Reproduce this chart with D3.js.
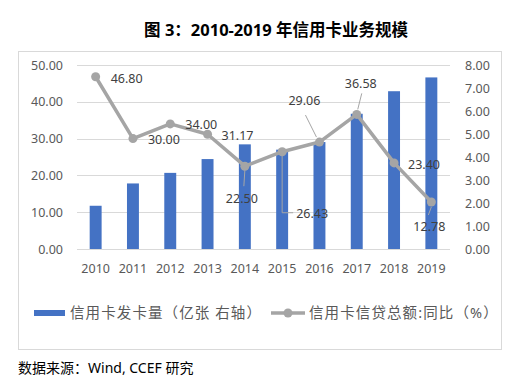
<!DOCTYPE html>
<html>
<head>
<meta charset="utf-8">
<script src="https://cdn.jsdelivr.net/npm/d3@7"></script>
<style>
  body { margin: 0; background: #fff; }
  svg text { font-family: "Noto Sans", "Noto Sans CJK SC", sans-serif; fill: #595959; }
</style>
</head>
<body>
<div id="viz"></div>
<script>
// data
var years = ["2010","2011","2012","2013","2014","2015","2016","2017","2018","2019"];
var cards = [1.88, 2.85, 3.31, 3.91, 4.55, 4.32, 4.65, 5.88, 6.86, 7.46]; // 亿张, right axis
var growth = [46.80, 30.00, 34.00, 31.17, 22.50, 26.43, 29.06, 36.58, 23.40, 12.78]; // %, left axis
var leftTicks = [0, 10, 20, 30, 40, 50];
var rightTicks = [0, 1, 2, 3, 4, 5, 6, 7, 8];

// label placement relative to the point: dx, dy, anchor
var labelPos = [
  [15, 2, "start"], [15, 1, "start"], [15, 1, "start"], [14, 1, "start"],
  [-3, 32, "middle"], [14, 62, "start"], [-15, -41, "middle"], [4, -31, "middle"],
  [14, 2, "start"], [-2, 25, "middle"]
];
// leader lines (relative to point) for a few labels
var leaders = {
  4: [[0, 4], [-1, 20]],
  5: [[0, 4], [0, 61], [11, 61]],
  6: [[-3, -5], [-14, -27]],
  7: [[1, -5], [5, -21]],
  9: [[0, 5], [-3, 13]]
};

var W = 520, H = 386;
var plotL = 77, plotR = 450, plotT = 65, plotB = 249;

var svg = d3.select("#viz").append("svg")
    .attr("width", W)
    .attr("height", H);

svg.append("text")
    .attr("x", 276).attr("y", 36)
    .attr("text-anchor", "middle")
    .style("font-size", "16.5px")
    .style("font-weight", "bold")
    .style("fill", "#000")
    .text("图 3：2010-2019 年信用卡业务规模");

svg.append("rect")
    .attr("x", 18.5).attr("y", 51.5)
    .attr("width", 483).attr("height", 298)
    .attr("fill", "none")
    .attr("stroke", "#d9d9d9");

var x = d3.scaleBand().domain(years).range([plotL, plotR]).paddingInner(0.68).paddingOuter(0.34);
var yL = d3.scaleLinear().domain([0, 50]).range([plotB, plotT]);
var yR = d3.scaleLinear().domain([0, 8]).range([plotB, plotT]);
var cx = function(d) { return x(d) + x.bandwidth() / 2; };

// grid
svg.selectAll(".grid").data(leftTicks).enter().append("line")
    .attr("x1", plotL).attr("x2", plotR)
    .attr("y1", function(d) { return Math.round(yL(d)) + 0.5; })
    .attr("y2", function(d) { return Math.round(yL(d)) + 0.5; })
    .attr("stroke", "#d9d9d9");

// axes
var axL = svg.append("g").attr("transform", "translate(" + (plotL - 14) + ",0)")
    .call(d3.axisLeft(yL).tickValues(leftTicks).tickFormat(d3.format(".2f")).tickSize(0));
var axR = svg.append("g").attr("transform", "translate(" + (plotR + 15) + ",0)")
    .call(d3.axisRight(yR).tickValues(rightTicks).tickFormat(d3.format(".2f")).tickSize(0));
var axX = svg.append("g").attr("transform", "translate(0," + (plotB + 12) + ")")
    .call(d3.axisBottom(x).tickSize(0));
[axL, axR, axX].forEach(function(a) {
  a.select(".domain").remove();
  a.selectAll("text").style("font-size", "12.5px").style("font-family", null).attr("fill", null);
});
axL.selectAll("text").attr("x", 0);
axR.selectAll("text").attr("x", 0);

// bars
svg.selectAll(".bar").data(cards).enter().append("rect")
    .attr("x", function(d, i) { return x(years[i]); })
    .attr("y", function(d) { return yR(d); })
    .attr("width", x.bandwidth())
    .attr("height", function(d) { return plotB - yR(d); })
    .attr("fill", "#4472c4");

// line
var line = d3.line()
    .x(function(d, i) { return cx(years[i]); })
    .y(function(d) { return yL(d); });
svg.append("path")
    .datum(growth)
    .attr("d", line)
    .attr("fill", "none")
    .attr("stroke", "#a5a5a5")
    .attr("stroke-width", 3.5)
    .attr("stroke-linejoin", "round");
svg.selectAll(".dot").data(growth).enter().append("circle")
    .attr("cx", function(d, i) { return cx(years[i]); })
    .attr("cy", function(d) { return yL(d); })
    .attr("r", 4.5)
    .attr("fill", "#a5a5a5");

// leader lines
Object.keys(leaders).forEach(function(k) {
  var i = +k, px = cx(years[i]), py = yL(growth[i]);
  svg.append("polyline")
      .attr("points", leaders[k].map(function(p) { return (px + p[0]) + "," + (py + p[1]); }).join(" "))
      .attr("fill", "none")
      .attr("stroke", "#a6a6a6")
      .attr("stroke-width", 1);
});

// data labels
svg.selectAll(".lab").data(growth).enter().append("text")
    .attr("x", function(d, i) { return cx(years[i]) + labelPos[i][0]; })
    .attr("y", function(d, i) { return yL(d) + labelPos[i][1]; })
    .attr("dy", "0.35em")
    .attr("text-anchor", function(d, i) { return labelPos[i][2]; })
    .style("font-size", "12.5px")
    .style("fill", "#404040")
    .text(function(d) { return d3.format(".2f")(d); });

// legend
svg.append("rect")
    .attr("x", 34).attr("y", 310)
    .attr("width", 31).attr("height", 6)
    .attr("fill", "#4472c4");
svg.append("text")
    .attr("x", 70).attr("y", 313).attr("dy", "0.35em")
    .style("font-size", "14.5px")
    .style("letter-spacing", "1.1px")
    .text("信用卡发卡量（亿张 右轴）");
svg.append("line")
    .attr("x1", 271).attr("x2", 305).attr("y1", 313).attr("y2", 313)
    .attr("stroke", "#a5a5a5").attr("stroke-width", 3.5);
svg.append("circle")
    .attr("cx", 288).attr("cy", 313).attr("r", 4.5).attr("fill", "#a5a5a5");
svg.append("text")
    .attr("x", 309).attr("y", 313).attr("dy", "0.35em")
    .style("font-size", "14.5px")
    .style("letter-spacing", "1.1px")
    .text("信用卡信贷总额:同比（%）");

svg.append("text")
    .attr("x", 18).attr("y", 368).attr("dy", "0.35em")
    .style("font-size", "14px")
    .style("fill", "#000")
    .text("数据来源：Wind, CCEF 研究");
</script>
</body>
</html>
